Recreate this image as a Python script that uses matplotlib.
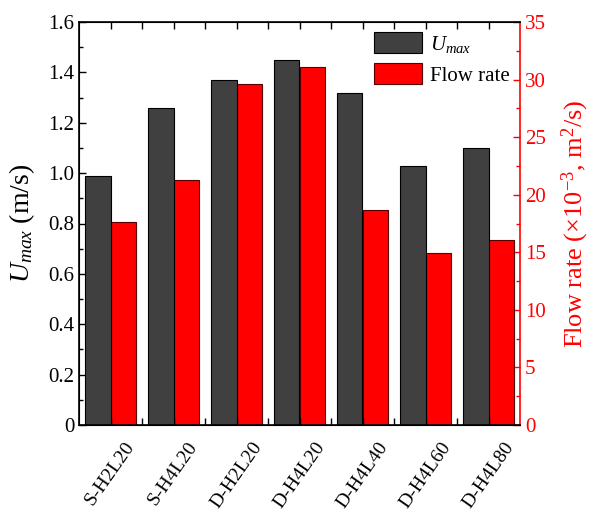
import numpy as np
import matplotlib
matplotlib.use("Agg")
import matplotlib.pyplot as plt
from matplotlib.ticker import MultipleLocator, FixedLocator

plt.rcParams["font.family"] = ["Liberation Serif", "DejaVu Serif"]
plt.rcParams["mathtext.fontset"] = "custom"
plt.rcParams["mathtext.rm"] = "Liberation Serif"
plt.rcParams["mathtext.it"] = "Liberation Serif:italic"

cases = ["S-H2L20", "S-H4L20", "D-H2L20", "D-H4L20", "D-H4L40", "D-H4L60", "D-H4L80"]
umax = [0.99, 1.26, 1.37, 1.45, 1.32, 1.03, 1.10]
flow_rate = [17.6, 21.3, 29.6, 31.1, 18.7, 14.9, 16.1]
left_ticks = [0, 0.2, 0.4, 0.6, 0.8, 1.0, 1.2, 1.4, 1.6]
left_labels = ["0", "0.2", "0.4", "0.6", "0.8", "1.0", "1.2", "1.4", "1.6"]

def main():
    fig = plt.figure(figsize=(5.93, 5.13), dpi=100)
    ax = fig.add_axes([79 / 593, 1 - 425 / 513, 441 / 593, 403 / 513])
    ax2 = ax.twinx()

    x = np.arange(len(cases))
    w = 0.4
    b1 = ax.bar(x - w / 2, umax, w, color="#404040", edgecolor="black", linewidth=0.8, zorder=2)
    b2 = ax2.bar(x + w / 2, flow_rate, w, color="#ff0000", edgecolor="#5a0000", linewidth=0.8, zorder=2)

    ax.set_xlim(-0.5, len(cases) - 0.5)
    ax.set_ylim(0, 1.6)
    ax2.set_ylim(0, 35)

    ax.xaxis.set_major_locator(FixedLocator(x))
    ax.xaxis.set_minor_locator(FixedLocator(x[:-1] + 0.5))
    ax.set_xticklabels(cases, rotation=55, ha="center", va="top", fontsize=14)
    ax.set_yticks(left_ticks)
    ax.set_yticklabels(left_labels)
    ax.yaxis.set_minor_locator(MultipleLocator(0.1))
    ax2.yaxis.set_major_locator(MultipleLocator(5))
    ax2.yaxis.set_minor_locator(MultipleLocator(2.5))

    ax.tick_params(axis="both", which="major", direction="in", length=5, width=1, labelsize=15,
                   top=True, right=False)
    ax.tick_params(axis="y", which="minor", direction="in", length=3, width=1, right=False)
    ax.tick_params(axis="x", which="minor", direction="in", length=5, width=1, top=True)
    ax.tick_params(axis="x", which="major", labelsize=14, pad=10)
    ax2.tick_params(axis="y", which="major", direction="in", length=5, width=1, labelsize=15,
                    colors="#ff0000")
    ax2.tick_params(axis="y", which="minor", direction="in", length=3, width=1, colors="#ff0000")
    ax2.spines["right"].set_color("#ff0000")
    ax2.spines["right"].set_linewidth(1.2)
    for s in ["left", "bottom", "top"]:
        ax.spines[s].set_linewidth(1.2)
    ax.spines["right"].set_visible(False)

    ax.set_ylabel("$U_{max}$ (m/s)", fontsize=20, labelpad=8)
    ax2.set_ylabel("Flow rate (×10$^{-3}$, m$^2$/s)", fontsize=19, color="#ff0000", labelpad=10)

    ax.set_zorder(ax2.get_zorder() + 1)
    ax.patch.set_visible(False)

    ax.legend([b1, b2], ["$U_{max}$", "Flow rate"], loc="upper right", bbox_to_anchor=(1.0, 1.0),
              frameon=False, fontsize=15, handlelength=2.3, handleheight=1.15,
              handletextpad=0.4, labelspacing=0.4, borderpad=0.2, borderaxespad=0.3)

    fig.savefig("out.png", dpi=100)

if __name__ == "__main__":
    main()
